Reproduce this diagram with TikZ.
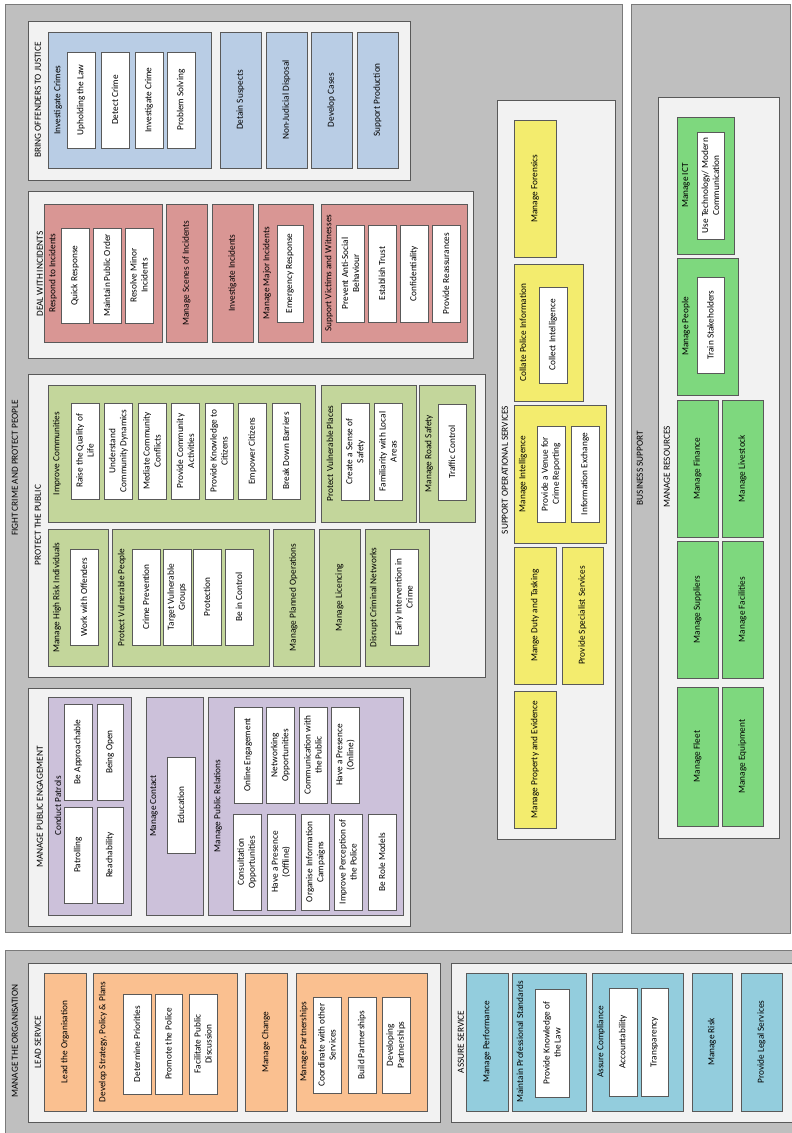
\documentclass[tikz,border=0pt]{standalone}
\usepackage{fontspec}
\setmainfont{Carlito}
\usepackage{xcolor}
\usepackage{tikz}
\usetikzlibrary{positioning}
\definecolor{areagrey}{RGB}{191,191,191}
\definecolor{paneback}{RGB}{242,242,242}
\definecolor{edgegrey}{RGB}{89,89,89}
\definecolor{justiceblue}{RGB}{185,205,229}
\definecolor{incidentred}{RGB}{217,150,148}
\definecolor{publicgreen}{RGB}{195,214,155}
\definecolor{engagepurple}{RGB}{204,193,218}
\definecolor{opsyellow}{RGB}{243,236,110}
\definecolor{resgreen}{RGB}{126,216,126}
\definecolor{leadorange}{RGB}{250,192,144}
\definecolor{assureteal}{RGB}{147,205,221}

\begin{document}
\begin{tikzpicture}[
  x=1pt, y=-1pt,
  font=\fontsize{9.3}{11}\selectfont,
  area/.style={draw=edgegrey!80, fill=areagrey, line width=0.9pt, inner sep=0pt},
  pane/.style={draw=edgegrey, fill=paneback, line width=0.8pt, inner sep=0pt},
  box/.style={draw=edgegrey, line width=0.7pt, rotate=90, align=center, inner sep=0pt},
  strip/.style={minimum width=137, minimum height=41},
  leaf/.style={box, fill=white, minimum width=96, minimum height=28},
  heading/.style={rotate=90, inner sep=0pt},
  justbox/.style={box, fill=justiceblue},
  incbox/.style={box, fill=incidentred},
  pubbox/.style={box, fill=publicgreen},
  engbox/.style={box, fill=engagepurple},
  opsbox/.style={box, fill=opsyellow},
  resbox/.style={box, fill=resgreen},
  leadbox/.style={box, fill=leadorange},
  assbox/.style={box, fill=assureteal}
]
\useasboundingbox (0,0) rectangle (792,1133);

% grey areas
\node[area, minimum width=617, minimum height=928] (fight) at (313.5,468) {};
\node[area, minimum width=159, minimum height=929] (business) at (710.5,468.5) {};
\node[area, minimum width=805, minimum height=200] (organisation) at (407.5,1050) {};
\node[heading] (fightcap) at (15,468) {FIGHT CRIME AND PROTECT PEOPLE};
\node[heading] (businesscap) at (640,468) {BUSINESS SUPPORT};
\node[heading] (organisationcap) at (15,1041) {MANAGE THE ORGANISATION};

% white panes
\node[pane, minimum width=382, minimum height=159] (justice) at (219,100.5) {};
\node[pane, minimum width=445, minimum height=167] (incidents) at (250.5,274.5) {};
\node[pane, minimum width=457, minimum height=303] (public) at (256.5,525.5) {};
\node[pane, minimum width=382, minimum height=238] (engage) at (219,807) {};
\node[pane, minimum width=118, minimum height=739] (ops) at (556,469.5) {};
\node[pane, minimum width=121, minimum height=741] (resources) at (718.5,467.5) {};
\node[pane, minimum width=412, minimum height=159] (lead) at (234,1042.5) {};
\node[pane, minimum width=359, minimum height=159] (assure) at (630.5,1042.5) {};
\node[heading] (justicecap) at (38,100) {BRING OFFENDERS TO JUSTICE};
\node[heading] (incidentscap) at (40,274) {DEAL WITH INCIDENTS};
\node[heading] (publiccap) at (38,525) {PROTECT THE PUBLIC};
\node[heading] (engagecap) at (40,807) {MANAGE PUBLIC ENGAGEMENT};
\node[heading] (opscap) at (505,470) {SUPPORT OPERATIONAL SERVICES};
\node[heading] (resourcescap) at (667,467) {MANAGE RESOURCES};
\node[heading] (leadcap) at (38,1042) {LEAD SERVICE};
\node[heading] (assurecap) at (461,1042) {ASSURE SERVICE};

% bring offenders to justice
\node[justbox, minimum width=136, minimum height=163] (invcrimes) at (129.5,100) {};
\node[heading] (invcrimescap) at (58,100) {Investigate Crimes};
\node[leaf] (uphold) at (81,100) {Upholding the Law};
\node[leaf] (detect) at (115,100) {Detect Crime};
\node[leaf] (invcrime) at (149,100) {Investigate Crime};
\node[leaf] (solving) at (181,100) {Problem Solving};
\node[justbox, strip, minimum width=136] (detain) at (240.5,100) {Detain Suspects};
\node[justbox, strip, minimum width=136] (disposal) at (286.5,100) {Non-Judicial Disposal};
\node[justbox, strip, minimum width=136] (cases) at (331.5,100) {Develop Cases};
\node[justbox, strip, minimum width=136] (production) at (377.5,100) {Support Production};

% deal with incidents
\node[incbox, minimum width=138, minimum height=118] (respond) at (103,273) {};
\node[heading] (respondcap) at (53,273) {Respond to Incidents};
\node[leaf, minimum width=95] (quick) at (75,275.5) {Quick Response};
\node[leaf, minimum width=95] (order) at (107,275.5) {Maintain Public Order};
\node[leaf, minimum width=95] (minor) at (139,275.5) {Resolve Minor\\Incidents};
\node[incbox, strip, minimum width=138] (scenes) at (186.5,273) {Manage Scenes of Incidents};
\node[incbox, strip, minimum width=138] (invincidents) at (232.5,273) {Investigate Incidents};
\node[incbox, minimum width=138, minimum height=55] (major) at (285.5,273) {};
\node[heading] (majorcap) at (267,273) {Manage Major Incidents};
\node[leaf, minimum width=97, minimum height=26] (emergency) at (290,273.5) {Emergency Response};
\node[incbox, minimum width=138, minimum height=146] (victims) at (394,273) {};
\node[heading] (victimscap) at (329,273) {Support Victims and Witnesses};
\node[leaf, minimum width=97] (antisocial) at (350.5,273.5) {Prevent Anti-Social\\Behaviour};
\node[leaf, minimum width=97] (trust) at (382,273.5) {Establish Trust};
\node[leaf, minimum width=97] (confidential) at (414,273.5) {Confidentiality};
\node[leaf, minimum width=97] (reassure) at (446,273.5) {Provide Reassurances};

% protect the public
\node[pubbox, minimum width=137, minimum height=267] (communities) at (181.5,453.5) {};
\node[heading] (communitiescap) at (57,453.5) {Improve Communities};
\node[leaf] (quality) at (85,451) {Raise the Quality of\\Life};
\node[leaf] (dynamics) at (118.5,451) {Understand\\Community Dynamics};
\node[leaf] (conflicts) at (152,451) {Mediate Community\\Conflicts};
\node[leaf] (activities) at (185.5,451) {Provide Community\\Activities};
\node[leaf] (knowledge) at (219,451) {Provide Knowledge to\\Citizens};
\node[leaf] (empower) at (252.5,451) {Empower Citizens};
\node[leaf] (barriers) at (286,451) {Break Down Barriers};
\node[pubbox, minimum width=137, minimum height=95] (places) at (368.5,453.5) {};
\node[heading] (placescap) at (330,453.5) {Protect Vulnerable Places};
\node[leaf, minimum width=97] (safety) at (355.5,451.5) {Create a Sense of\\Safety};
\node[leaf, minimum width=97] (familiar) at (388,451.5) {Familiarity with Local\\Areas};
\node[pubbox, minimum width=137, minimum height=56] (road) at (447,453.5) {};
\node[heading] (roadcap) at (429,453.5) {Manage Road Safety};
\node[leaf] (traffic) at (452,452) {Traffic Control};
\node[pubbox, minimum width=137, minimum height=60] (highrisk) at (78,597.5) {};
\node[heading] (highriskcap) at (57,597.5) {Manage High Risk Individuals};
\node[leaf] (offenders) at (84,597) {Work with Offenders};
\node[pubbox, minimum width=137, minimum height=157] (people) at (190.5,597.5) {};
\node[heading] (peoplecap) at (122,597.5) {Protect Vulnerable People};
\node[leaf] (prevention) at (146,597) {Crime Prevention};
\node[leaf] (groups) at (177,597) {Target Vulnerable\\Groups};
\node[leaf] (protection) at (207,597) {Protection};
\node[leaf] (control) at (239,597) {Be in Control};
\node[pubbox, strip] (planned) at (293.5,597.5) {Manage Planned Operations};
\node[pubbox, strip] (licencing) at (339.5,597.5) {Manage Licencing};
\node[pubbox, minimum width=137, minimum height=64] (networks) at (397,597.5) {};
\node[heading] (networkscap) at (374,597.5) {Disrupt Criminal Networks};
\node[leaf] (early) at (404,597) {Early Intervention in\\Crime};

% manage public engagement
\node[engbox, minimum width=218, minimum height=83] (patrols) at (89.5,806) {};
\node[heading] (patrolscap) at (58,806) {Conduct Patrols};
\node[leaf] (approachable) at (78,752) {Be Approachable};
\node[leaf, minimum height=26] (open) at (110,752) {Being Open};
\node[leaf] (patrolling) at (78,855) {Patrolling};
\node[leaf, minimum height=26] (reach) at (110,855) {Reachability};
\node[engbox, minimum width=218, minimum height=57] (contact) at (174.5,806) {};
\node[heading] (contactcap) at (154,806) {Manage Contact};
\node[leaf] (education) at (181,805) {Education};
\node[engbox, minimum width=218, minimum height=195] (relations) at (305.5,806) {};
\node[heading] (relationscap) at (218,806) {Manage Public Relations};
\node[leaf] (online) at (248,755) {Online Engagement};
\node[leaf] (networking) at (280.5,755) {Networking\\Opportunities};
\node[leaf] (communication) at (313,755) {Communication with\\the Public};
\node[leaf] (presenceon) at (345.5,755) {Have a Presence\\(Online)};
\node[leaf] (consult) at (247,862) {Consultation\\Opportunities};
\node[leaf] (presenceoff) at (281,862) {Have a Presence\\(Offline)};
\node[leaf] (campaigns) at (315.5,862) {Organise Information\\Campaigns};
\node[leaf] (perception) at (348,862) {Improve Perception of\\the Police};
\node[leaf] (rolemodels) at (382,862) {Be Role Models};

% support operational services
\node[opsbox, strip, minimum height=42] (forensics) at (535,188.5) {Manage Forensics};
\node[opsbox, minimum width=137, minimum height=69] (collate) at (548.5,332.5) {};
\node[heading] (collatecap) at (523,332.5) {Collate Police Information};
\node[leaf] (collect) at (553,335) {Collect Intelligence};
\node[opsbox, minimum width=138, minimum height=92] (intel) at (560,474) {};
\node[heading] (intelcap) at (523,474) {Manage Intelligence};
\node[leaf] (venue) at (551,474) {Provide a Venue for\\Crime Reporting};
\node[leaf] (exchange) at (585,474) {Information Exchange};
\node[opsbox, strip, minimum height=42] (duty) at (535,615.5) {Mange Duty and Tasking};
\node[opsbox, strip] (specialist) at (582.5,615.5) {Provide Specialist Services};
\node[opsbox, strip, minimum height=42] (property) at (535,759.5) {Manage Property and Evidence};

% manage resources
\node[resbox, minimum width=137, minimum height=57] (ict) at (705.5,185.5) {};
\node[heading] (ictcap) at (686,185.5) {Manage ICT};
\node[leaf, minimum width=107, minimum height=27] (technology) at (710.5,185.5) {Use Technology/ Modern\\Communication};
\node[resbox, minimum width=137, minimum height=61] (staff) at (707.5,326.5) {};
\node[heading] (staffcap) at (686,326.5) {Manage People};
\node[leaf, minimum height=27] (train) at (710.5,325) {Train Stakeholders};
\node[resbox, strip] (finance) at (697.5,468.5) {Manage Finance};
\node[resbox, strip] (livestock) at (742.5,468.5) {Manage Livestock};
\node[resbox, strip] (suppliers) at (697.5,609.5) {Manage Suppliers};
\node[resbox, strip] (facilities) at (742.5,609.5) {Manage Facilities};
\node[resbox, strip, minimum width=139] (fleet) at (697.5,756.5) {Manage Fleet};
\node[resbox, strip, minimum width=139] (equipment) at (742.5,756.5) {Manage Equipment};

% lead service
\node[leadbox, strip, minimum width=138, minimum height=42] (leadorg) at (65,1042) {Lead the Organisation};
\node[leadbox, minimum width=138, minimum height=144] (strategy) at (165,1042) {};
\node[heading] (strategycap) at (103,1042) {Develop Strategy, Policy \& Plans};
\node[leaf, minimum width=100] (priorities) at (137,1044) {Determine Priorities};
\node[leaf, minimum width=100, minimum height=27] (promote) at (168.5,1044) {Promote the Police};
\node[leaf, minimum width=100] (discussion) at (203,1044) {Facilitate Public\\Discussion};
\node[leadbox, strip, minimum width=138, minimum height=42] (change) at (266,1042) {Manage Change};
\node[leadbox, minimum width=138, minimum height=131] (partnerships) at (361.5,1042) {};
\node[heading] (partnershipscap) at (304,1042) {Manage Partnerships};
\node[leaf] (coordinate) at (327,1045) {Coordinate with other\\Services};
\node[leaf] (build) at (362,1045) {Build Partnerships};
\node[leaf] (developing) at (396,1045) {Developing\\Partnerships};

% assure service
\node[assbox, strip, minimum width=138, minimum height=42] (performance) at (487,1042) {Manage Performance};
\node[assbox, minimum width=138, minimum height=74] (standards) at (549,1042) {};
\node[heading] (standardscap) at (520,1042) {Maintain Professional Standards};
\node[leaf, minimum width=108, minimum height=34] (law) at (552,1043) {Provide Knowledge of\\the Law};
\node[assbox, minimum width=138, minimum height=91] (compliance) at (637.5,1042) {};
\node[heading] (compliancecap) at (601,1042) {Assure Compliance};
\node[leaf, minimum width=108] (accountability) at (623,1042) {Accountability};
\node[leaf, minimum width=108, minimum height=27] (transparency) at (654.5,1042) {Transparency};
\node[assbox, strip, minimum width=138, minimum height=40] (risk) at (712,1042) {Manage Risk};
\node[assbox, strip, minimum width=138] (legal) at (761.5,1042) {Provide Legal Services};
\end{tikzpicture}
\end{document}
